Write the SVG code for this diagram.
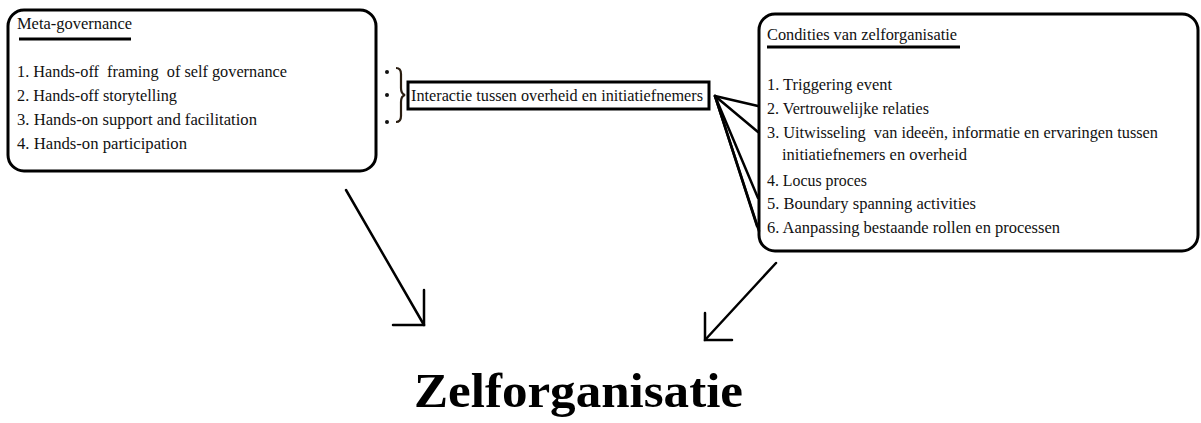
<svg xmlns="http://www.w3.org/2000/svg" width="1201" height="423" viewBox="0 0 1201 423">
<style>
.box{fill:#fff;stroke:#000;stroke-width:3}
.t{font-family:"Liberation Serif","Times New Roman",serif;font-size:16.5px;fill:#111}
.ln{stroke:#000;stroke-width:2.5;fill:none;stroke-linecap:round}
.ul{stroke:#000;stroke-width:3}
.big{font-family:"Liberation Serif","Times New Roman",serif;font-size:48px;font-weight:bold;fill:#000}
</style>
<rect width="1201" height="423" fill="#fff"/>
<g id="meta-governance">
<rect class="box" x="8" y="10" width="368" height="161" rx="16"/>
<text class="t" x="17" y="29" textLength="115" lengthAdjust="spacingAndGlyphs">Meta-governance</text>
<line class="ul" x1="19" y1="39" x2="131" y2="39"/>
<text class="t" x="17" y="77" textLength="270" lengthAdjust="spacingAndGlyphs" xml:space="preserve">1. Hands-off  framing  of self governance</text>
<text class="t" x="17" y="101" textLength="160" lengthAdjust="spacingAndGlyphs">2. Hands-off storytelling</text>
<text class="t" x="17" y="125" textLength="240" lengthAdjust="spacingAndGlyphs">3. Hands-on support and facilitation</text>
<text class="t" x="17" y="149" textLength="170" lengthAdjust="spacingAndGlyphs">4. Hands-on participation</text>
</g>
<g id="bullets">
<circle cx="387" cy="72" r="2" fill="#111"/>
<circle cx="387" cy="95" r="2" fill="#111"/>
<circle cx="387" cy="122" r="2" fill="#111"/>
<path d="M396 68 Q401 68 401 74 L401 88 Q401 94 405 95 Q401 96 401 102 L401 116 Q401 122 396 122" fill="none" stroke="#2a1d10" stroke-width="2.2"/>
</g>
<g id="interactie">
<rect x="408" y="82" width="301" height="27" fill="#fff" stroke="#000" stroke-width="3"/>
<text class="t" x="411" y="101" textLength="292" lengthAdjust="spacingAndGlyphs">Interactie tussen overheid en initiatiefnemers</text>
</g>
<g id="condities">
<rect class="box" x="759" y="14" width="439" height="237" rx="16"/>
<text class="t" x="767" y="40" textLength="190" lengthAdjust="spacingAndGlyphs">Condities van zelforganisatie</text>
<line class="ul" x1="767" y1="47" x2="960" y2="47"/>
<text class="t" x="767" y="90" textLength="125" lengthAdjust="spacingAndGlyphs">1. Triggering event</text>
<text class="t" x="767" y="114" textLength="162" lengthAdjust="spacingAndGlyphs">2. Vertrouwelijke relaties</text>
<text class="t" x="767" y="138" textLength="391" lengthAdjust="spacingAndGlyphs" xml:space="preserve">3. Uitwisseling  van ideeën, informatie en ervaringen tussen</text>
<text class="t" x="782" y="160" textLength="185" lengthAdjust="spacingAndGlyphs">initiatiefnemers en overheid</text>
<text class="t" x="767" y="186" textLength="100" lengthAdjust="spacingAndGlyphs">4. Locus proces</text>
<text class="t" x="767" y="209" textLength="209" lengthAdjust="spacingAndGlyphs">5. Boundary spanning activities</text>
<text class="t" x="767" y="233" textLength="293" lengthAdjust="spacingAndGlyphs">6. Aanpassing bestaande rollen en processen</text>
</g>
<g id="zelforganisatie">
<text class="big" x="414" y="407" textLength="329" lengthAdjust="spacingAndGlyphs">Zelforganisatie</text>
</g>
<g id="connectors">
<line class="ln" stroke-width="3" x1="715" y1="96" x2="758" y2="106"/>
<line class="ln" stroke-width="3" x1="715" y1="96" x2="758" y2="132"/>
<line class="ln" stroke-width="2.5" x1="715" y1="96" x2="758" y2="198"/>
<line class="ln" stroke-width="2.5" x1="715" y1="96" x2="757" y2="226"/>
<line class="ln" stroke-width="2.5" x1="715" y1="96" x2="759" y2="231"/>
<line class="ln" x1="346" y1="190" x2="424" y2="325"/>
<polyline class="ln" points="424,290 424,325 393,325"/>
<line class="ln" x1="776" y1="263" x2="705" y2="340"/>
<polyline class="ln" points="705,313 705,340 732,340"/>
</g>
</svg>
